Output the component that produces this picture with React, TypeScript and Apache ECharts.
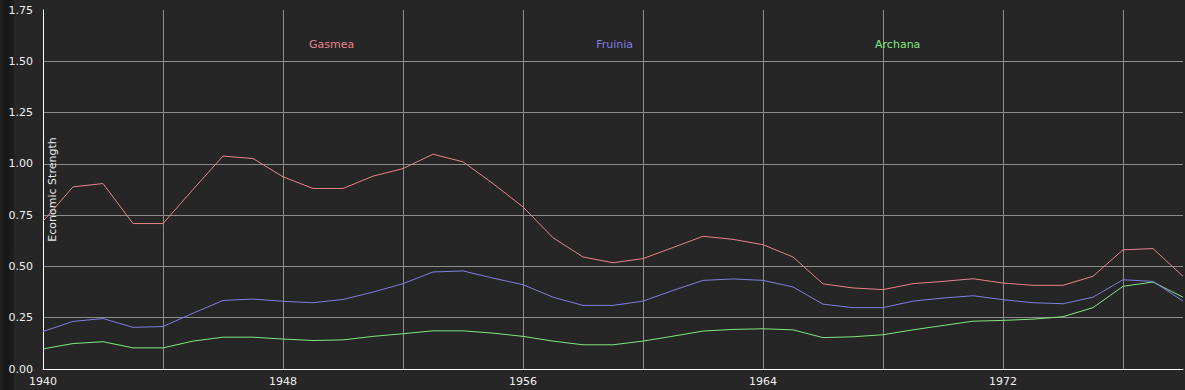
import React, { useEffect, useRef } from "react";
import * as echarts from "echarts";

const years = [
  1940, 1941, 1942, 1943, 1944, 1945, 1946, 1947, 1948, 1949,
  1950, 1951, 1952, 1953, 1954, 1955, 1956, 1957, 1958, 1959,
  1960, 1961, 1962, 1963, 1964, 1965, 1966, 1967, 1968, 1969,
  1970, 1971, 1972, 1973, 1974, 1975, 1976, 1977, 1978,
];

const gasmea = [
  0.72, 0.888, 0.904, 0.709, 0.709, 0.875, 1.038, 1.026, 0.937, 0.88,
  0.88, 0.94, 0.977, 1.047, 1.01, 0.904, 0.79, 0.64, 0.546, 0.518,
  0.538, 0.592, 0.647, 0.632, 0.606, 0.546, 0.415, 0.395, 0.387, 0.416,
  0.427, 0.44, 0.419, 0.408, 0.408, 0.452, 0.581, 0.587, 0.452,
];

const fruinia = [
  0.183, 0.232, 0.246, 0.203, 0.207, 0.272, 0.334, 0.341, 0.33, 0.323,
  0.339, 0.375, 0.416, 0.473, 0.478, 0.443, 0.411, 0.35, 0.31, 0.31,
  0.331, 0.383, 0.432, 0.439, 0.432, 0.4, 0.316, 0.299, 0.299, 0.331,
  0.346, 0.357, 0.338, 0.323, 0.318, 0.35, 0.435, 0.427, 0.331,
];

const archana = [
  0.098, 0.124, 0.133, 0.103, 0.103, 0.136, 0.155, 0.155, 0.146, 0.139,
  0.142, 0.159, 0.172, 0.186, 0.186, 0.175, 0.159, 0.136, 0.118, 0.118,
  0.136, 0.16, 0.185, 0.193, 0.196, 0.191, 0.153, 0.157, 0.167, 0.191,
  0.212, 0.233, 0.237, 0.243, 0.255, 0.299, 0.403, 0.424, 0.35,
];

const seriesNames = ["Gasmea", "Fruinia", "Archana"];
const seriesColors = ["#e8838b", "#7f7fe0", "#82e682"];

const toPairs = (vals: number[]) => years.map((y, i) => [y, vals[i]]);

export default function App() {
  const ref = useRef<HTMLDivElement>(null);

  useEffect(() => {
    if (!ref.current) return;
    const chart = echarts.init(ref.current, null, { renderer: "svg" });
    const font = "DejaVu Sans";
    const allData = [gasmea, fruinia, archana];
    chart.setOption({
      animation: false,
      backgroundColor: "#262626",
      graphic: [
        {
          type: "rect",
          left: 0,
          top: 0,
          shape: { width: 14, height: 390 },
          style: {
            fill: new echarts.graphic.LinearGradient(0, 0, 1, 0, [
              { offset: 0, color: "#202020" },
              { offset: 0.4, color: "#161616" },
              { offset: 1, color: "#1e1e1e" },
            ]),
          },
          silent: true,
          z: -1,
        },
      ],
      legend: {
        left: 299,
        top: 34,
        itemWidth: 0,
        itemHeight: 0,
        itemGap: 237,
        icon: "none",
        data: seriesNames.map((n, i) => ({
          name: n,
          icon: "none",
          textStyle: { color: seriesColors[i], fontFamily: font, fontSize: 11 },
        })),
      },
      grid: {
        left: 43,
        right: 2,
        top: 10,
        bottom: 21,
        containLabel: false,
        outerBoundsMode: "none",
      },
      xAxis: {
        type: "value",
        min: 1940,
        max: 1978,
        interval: 4,
        axisLine: { show: true, lineStyle: { color: "#ffffff", width: 1 } },
        axisTick: { show: false },
        axisLabel: {
          color: "#f0f0f0",
          fontFamily: font,
          fontSize: 11,
          margin: 7,
          formatter: (v: number) => ((v - 1940) % 8 === 0 ? String(v) : ""),
        },
        splitLine: {
          show: true,
          showMinLine: false,
          showMaxLine: false,
          lineStyle: { color: "#8c8c8c", width: 1 },
        },
      },
      yAxis: {
        type: "value",
        min: 0,
        max: 1.75,
        interval: 0.25,
        name: "Economic Strength",
        nameLocation: "middle",
        nameGap: -15,
        nameRotate: 90,
        nameMoveOverlap: false,
        nameTextStyle: { color: "#e8e8e8", fontFamily: font, fontSize: 11 },
        axisLine: { show: true, lineStyle: { color: "#ffffff", width: 1 } },
        axisTick: { show: false },
        axisLabel: {
          color: "#f0f0f0",
          fontFamily: font,
          fontSize: 11,
          margin: 10,
          formatter: (v: number) => v.toFixed(2),
        },
        splitLine: {
          show: true,
          showMinLine: false,
          showMaxLine: false,
          lineStyle: { color: "#8c8c8c", width: 1 },
        },
      },
      series: seriesNames.map((n, i) => ({
        name: n,
        type: "line",
        data: toPairs(allData[i]),
        showSymbol: false,
        symbol: "none",
        lineStyle: { color: seriesColors[i], width: 1 },
        itemStyle: { color: seriesColors[i] },
        z: 3 - i,
      })),
    });
    return () => chart.dispose();
  }, []);

  return (
    <div
      ref={ref}
      style={{ position: "fixed", left: 0, top: 0, width: 1185, height: 390 }}
    />
  );
}
